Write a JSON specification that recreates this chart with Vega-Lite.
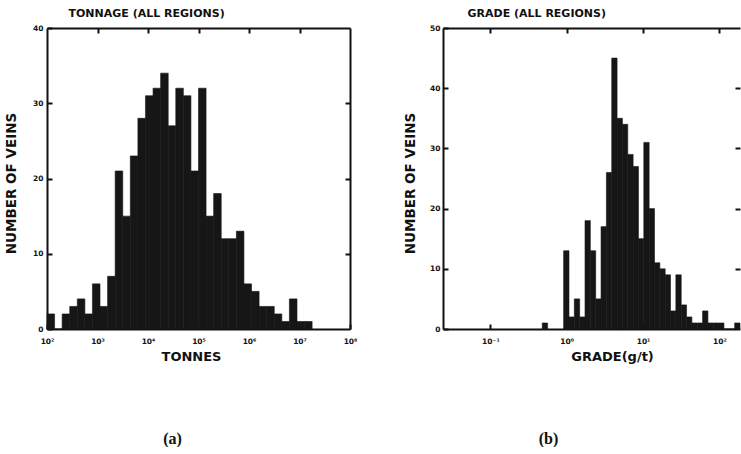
{
  "$schema": "https://vega.github.io/schema/vega-lite/v6.json",
  "background": "white",
  "padding": {"left": 4, "top": 7, "right": 0, "bottom": 0},
  "bounds": "flush",
  "spacing": 93,
  "config": {
    "view": {"stroke": null},
    "font": "DejaVu Sans",
    "axis": {
      "domainColor": "#111", "domainWidth": 2,
      "tickColor": "#111", "tickWidth": 2, "tickSize": -5,
      "labelColor": "#111", "labelFont": "DejaVu Sans", "labelFontWeight": "bold", "labelFontSize": 7.5,
      "titleColor": "#111", "titleFont": "DejaVu Sans", "titleFontWeight": "bold",
      "grid": false, "labelFlush": false, "labelOverlap": false
    }
  },
  "hconcat": [
    {
      "width": 303,
      "height": 301,
      "title": {"text": "(a)", "orient": "bottom", "frame": "group", "offset": 68, "dx": -26, "font": "Liberation Serif", "fontSize": 16, "fontWeight": "bold", "color": "#111"},
      "data": {"values": [
        {"log10_tonnes_start": 2.00, "log10_tonnes_end": 2.15, "count": 2},
        {"log10_tonnes_start": 2.15, "log10_tonnes_end": 2.30, "count": 0},
        {"log10_tonnes_start": 2.30, "log10_tonnes_end": 2.45, "count": 2},
        {"log10_tonnes_start": 2.45, "log10_tonnes_end": 2.60, "count": 3},
        {"log10_tonnes_start": 2.60, "log10_tonnes_end": 2.75, "count": 4},
        {"log10_tonnes_start": 2.75, "log10_tonnes_end": 2.90, "count": 2},
        {"log10_tonnes_start": 2.90, "log10_tonnes_end": 3.05, "count": 6},
        {"log10_tonnes_start": 3.05, "log10_tonnes_end": 3.20, "count": 3},
        {"log10_tonnes_start": 3.20, "log10_tonnes_end": 3.35, "count": 7},
        {"log10_tonnes_start": 3.35, "log10_tonnes_end": 3.50, "count": 21},
        {"log10_tonnes_start": 3.50, "log10_tonnes_end": 3.65, "count": 15},
        {"log10_tonnes_start": 3.65, "log10_tonnes_end": 3.80, "count": 23},
        {"log10_tonnes_start": 3.80, "log10_tonnes_end": 3.95, "count": 28},
        {"log10_tonnes_start": 3.95, "log10_tonnes_end": 4.10, "count": 31},
        {"log10_tonnes_start": 4.10, "log10_tonnes_end": 4.25, "count": 32},
        {"log10_tonnes_start": 4.25, "log10_tonnes_end": 4.40, "count": 34},
        {"log10_tonnes_start": 4.40, "log10_tonnes_end": 4.55, "count": 27},
        {"log10_tonnes_start": 4.55, "log10_tonnes_end": 4.70, "count": 32},
        {"log10_tonnes_start": 4.70, "log10_tonnes_end": 4.85, "count": 31},
        {"log10_tonnes_start": 4.85, "log10_tonnes_end": 5.00, "count": 21},
        {"log10_tonnes_start": 5.00, "log10_tonnes_end": 5.15, "count": 32},
        {"log10_tonnes_start": 5.15, "log10_tonnes_end": 5.30, "count": 15},
        {"log10_tonnes_start": 5.30, "log10_tonnes_end": 5.45, "count": 18},
        {"log10_tonnes_start": 5.45, "log10_tonnes_end": 5.60, "count": 12},
        {"log10_tonnes_start": 5.60, "log10_tonnes_end": 5.75, "count": 12},
        {"log10_tonnes_start": 5.75, "log10_tonnes_end": 5.90, "count": 13},
        {"log10_tonnes_start": 5.90, "log10_tonnes_end": 6.05, "count": 6},
        {"log10_tonnes_start": 6.05, "log10_tonnes_end": 6.20, "count": 5},
        {"log10_tonnes_start": 6.20, "log10_tonnes_end": 6.35, "count": 3},
        {"log10_tonnes_start": 6.35, "log10_tonnes_end": 6.50, "count": 3},
        {"log10_tonnes_start": 6.50, "log10_tonnes_end": 6.65, "count": 2},
        {"log10_tonnes_start": 6.65, "log10_tonnes_end": 6.80, "count": 1},
        {"log10_tonnes_start": 6.80, "log10_tonnes_end": 6.95, "count": 4},
        {"log10_tonnes_start": 6.95, "log10_tonnes_end": 7.10, "count": 1},
        {"log10_tonnes_start": 7.10, "log10_tonnes_end": 7.25, "count": 1}
      ]},
      "layer": [
        {
          "mark": {"type": "bar", "color": "#161616", "stroke": "#161616", "strokeWidth": 0.6},
          "encoding": {
            "x": {"field": "log10_tonnes_start", "type": "quantitative",
                  "scale": {"domain": [2, 8], "nice": false, "zero": false},
                  "axis": {"orient": "bottom", "values": [2, 3, 4, 5, 6, 7, 8],
                           "labelExpr": "'10' + substring('⁰¹²³⁴⁵⁶⁷⁸⁹', datum.value, datum.value + 1)",
                           "labelPadding": 13, "title": "TONNES", "titleFontSize": 13,
                           "titleX": 144, "titleAlign": "center", "titlePadding": 5, "minExtent": 16, "maxExtent": 16}},
            "x2": {"field": "log10_tonnes_end"},
            "y": {"field": "count", "type": "quantitative",
                  "scale": {"domain": [0, 40], "nice": false},
                  "axis": {"orient": "left", "values": [0, 10, 20, 30, 40], "labelPadding": 9,
                           "title": "NUMBER OF VEINS", "titleFontSize": 13.5, "titlePadding": 11,
                           "titleY": 155, "minExtent": 18, "maxExtent": 18}},
            "y2": {"datum": 0}
          }
        },
        {
          "mark": {"type": "bar", "opacity": 0},
          "encoding": {
            "x": {"field": "log10_tonnes_start", "type": "quantitative",
                  "axis": {"orient": "top", "values": [3, 4, 5, 6, 7], "labels": false,
                           "title": "TONNAGE (ALL REGIONS)", "titleFontSize": 11, "titleAnchor": "start",
                           "titleX": 21, "titleAlign": "left", "titlePadding": 10, "minExtent": 0, "maxExtent": 0}},
            "x2": {"field": "log10_tonnes_end"},
            "y": {"field": "count", "type": "quantitative",
                  "axis": {"orient": "right", "values": [10, 20, 30], "labels": false, "title": null,
                           "minExtent": 0, "maxExtent": 0}},
            "y2": {"datum": 0}
          }
        }
      ]
    },
    {
      "width": 297,
      "height": 301,
      "title": {"text": "(b)", "orient": "bottom", "frame": "group", "offset": 68, "dx": -43, "font": "Liberation Serif", "fontSize": 16, "fontWeight": "bold", "color": "#111"},
      "data": {"values": [
        {"log10_grade_start": -0.32, "log10_grade_end": -0.25, "count": 1},
        {"log10_grade_start": -0.04, "log10_grade_end": 0.03, "count": 13},
        {"log10_grade_start": 0.03, "log10_grade_end": 0.10, "count": 2},
        {"log10_grade_start": 0.10, "log10_grade_end": 0.17, "count": 5},
        {"log10_grade_start": 0.17, "log10_grade_end": 0.24, "count": 2},
        {"log10_grade_start": 0.24, "log10_grade_end": 0.31, "count": 18},
        {"log10_grade_start": 0.31, "log10_grade_end": 0.38, "count": 13},
        {"log10_grade_start": 0.38, "log10_grade_end": 0.45, "count": 5},
        {"log10_grade_start": 0.45, "log10_grade_end": 0.52, "count": 17},
        {"log10_grade_start": 0.52, "log10_grade_end": 0.59, "count": 26},
        {"log10_grade_start": 0.59, "log10_grade_end": 0.66, "count": 45},
        {"log10_grade_start": 0.66, "log10_grade_end": 0.73, "count": 35},
        {"log10_grade_start": 0.73, "log10_grade_end": 0.80, "count": 34},
        {"log10_grade_start": 0.80, "log10_grade_end": 0.87, "count": 29},
        {"log10_grade_start": 0.87, "log10_grade_end": 0.94, "count": 27},
        {"log10_grade_start": 0.94, "log10_grade_end": 1.01, "count": 15},
        {"log10_grade_start": 1.01, "log10_grade_end": 1.08, "count": 31},
        {"log10_grade_start": 1.08, "log10_grade_end": 1.15, "count": 20},
        {"log10_grade_start": 1.15, "log10_grade_end": 1.22, "count": 11},
        {"log10_grade_start": 1.22, "log10_grade_end": 1.29, "count": 10},
        {"log10_grade_start": 1.29, "log10_grade_end": 1.36, "count": 9},
        {"log10_grade_start": 1.36, "log10_grade_end": 1.43, "count": 3},
        {"log10_grade_start": 1.43, "log10_grade_end": 1.50, "count": 9},
        {"log10_grade_start": 1.50, "log10_grade_end": 1.57, "count": 4},
        {"log10_grade_start": 1.57, "log10_grade_end": 1.64, "count": 2},
        {"log10_grade_start": 1.64, "log10_grade_end": 1.71, "count": 1},
        {"log10_grade_start": 1.71, "log10_grade_end": 1.78, "count": 1},
        {"log10_grade_start": 1.78, "log10_grade_end": 1.85, "count": 3},
        {"log10_grade_start": 1.85, "log10_grade_end": 1.92, "count": 1},
        {"log10_grade_start": 1.92, "log10_grade_end": 1.99, "count": 1},
        {"log10_grade_start": 1.99, "log10_grade_end": 2.06, "count": 1},
        {"log10_grade_start": 2.06, "log10_grade_end": 2.13, "count": 0},
        {"log10_grade_start": 2.13, "log10_grade_end": 2.20, "count": 0},
        {"log10_grade_start": 2.20, "log10_grade_end": 2.27, "count": 1}
      ]},
      "layer": [
        {
          "mark": {"type": "bar", "color": "#161616", "stroke": "#161616", "strokeWidth": 0.6},
          "encoding": {
            "x": {"field": "log10_grade_start", "type": "quantitative",
                  "scale": {"domain": [-1.62, 2.27], "nice": false, "zero": false},
                  "axis": {"orient": "bottom", "values": [-1, 0, 1, 2],
                           "labelExpr": "'10' + (datum.value < 0 ? '⁻' : '') + substring('⁰¹²³⁴⁵⁶⁷⁸⁹', abs(datum.value), abs(datum.value) + 1)",
                           "labelPadding": 13, "title": "GRADE(g/t)", "titleFontSize": 13,
                           "titleX": 169, "titleAlign": "center", "titlePadding": 5, "minExtent": 16, "maxExtent": 16}},
            "x2": {"field": "log10_grade_end"},
            "y": {"field": "count", "type": "quantitative",
                  "scale": {"domain": [0, 50], "nice": false},
                  "axis": {"orient": "left", "values": [0, 10, 20, 30, 40, 50], "labelPadding": 8,
                           "title": "NUMBER OF VEINS", "titleFontSize": 13.5, "titlePadding": 10,
                           "titleY": 155, "minExtent": 16, "maxExtent": 16}},
            "y2": {"datum": 0}
          }
        },
        {
          "mark": {"type": "bar", "opacity": 0},
          "encoding": {
            "x": {"field": "log10_grade_start", "type": "quantitative",
                  "axis": {"orient": "top", "values": [-1, 0, 1, 2], "labels": false,
                           "title": "GRADE (ALL REGIONS)", "titleFontSize": 11, "titleAnchor": "start",
                           "titleX": 24, "titleAlign": "left", "titlePadding": 10, "minExtent": 0, "maxExtent": 0}},
            "x2": {"field": "log10_grade_end"},
            "y": {"field": "count", "type": "quantitative",
                  "axis": {"orient": "right", "values": [10, 20, 30, 40], "labels": false, "title": null,
                           "domain": false, "minExtent": 0, "maxExtent": 0}},
            "y2": {"datum": 0}
          }
        }
      ]
    }
  ]
}
